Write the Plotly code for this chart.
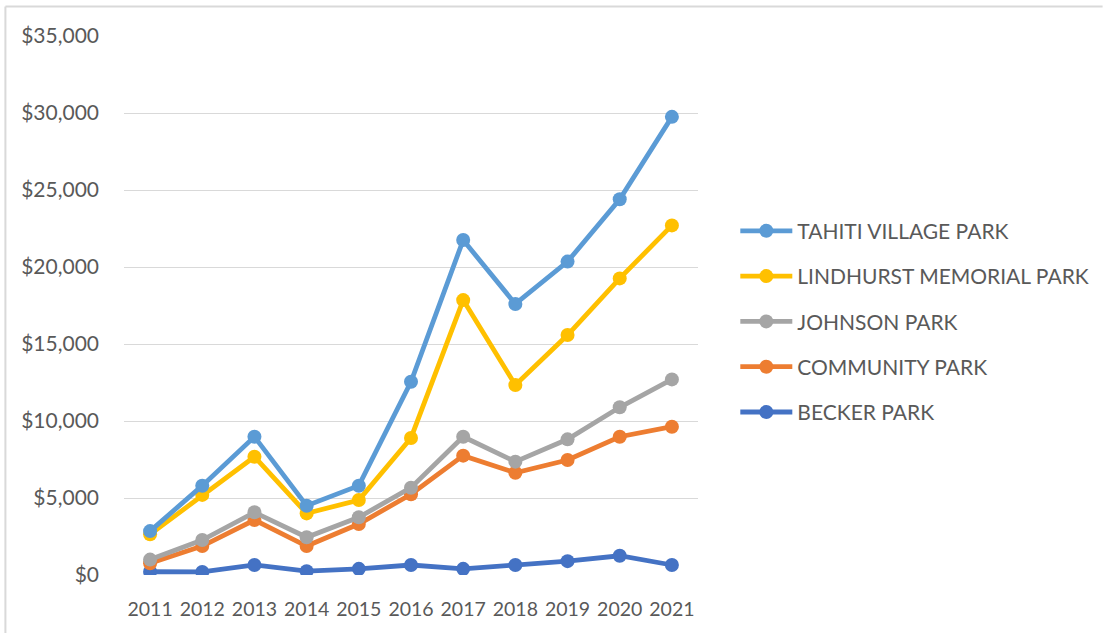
import plotly.graph_objects as go

years = ["2011", "2012", "2013", "2014", "2015", "2016", "2017", "2018", "2019", "2020", "2021"]
tahiti = [2850, 5800, 8980, 4500, 5800, 12550, 21750, 17600, 20350, 24400, 29750]
lindhurst = [2640, 5200, 7680, 4000, 4870, 8900, 17850, 12340, 15580, 19260, 22700]
johnson = [1000, 2270, 4070, 2450, 3750, 5670, 8980, 7360, 8810, 10890, 12700]
community = [760, 1880, 3570, 1880, 3310, 5240, 7750, 6640, 7470, 8980, 9630]
becker = [210, 200, 650, 250, 400, 650, 400, 650, 900, 1250, 650]

series_names = ["BECKER PARK", "COMMUNITY PARK", "JOHNSON PARK", "LINDHURST MEMORIAL PARK", "TAHITI VILLAGE PARK"]
series_values = [becker, community, johnson, lindhurst, tahiti]
series_colors = ["#4472C4", "#ED7D31", "#A5A5A5", "#FFC000", "#5B9BD5"]
legend_ranks = [5, 4, 3, 2, 1]
y_ticks = [0, 5000, 10000, 15000, 20000, 25000, 30000, 35000]
y_labels = ["$0", "$5,000", "$10,000", "$15,000", "$20,000", "$25,000", "$30,000", "$35,000"]

FONT = "Lato"
TXT = "#595959"

fig = go.Figure()
for name, vals, col, rk in zip(series_names, series_values, series_colors, legend_ranks):
    fig.add_trace(go.Scatter(
        x=years, y=vals, name=name, mode="lines+markers",
        line=dict(color=col, width=4.8),
        marker=dict(color=col, size=14),
        legendgroup=name, legendrank=rk,
    ))

fig.update_layout(
    width=1106, height=633,
    margin=dict(l=124, r=406, t=36, b=58),
    paper_bgcolor="white", plot_bgcolor="white",
    font=dict(family=FONT, size=21, color=TXT),
    legend=dict(
        x=1.065, y=0.470, xanchor="left", yanchor="middle",
        traceorder="grouped", tracegroupgap=15,
        font=dict(family=FONT, size=21, color=TXT),
        bgcolor="rgba(0,0,0,0)", itemwidth=52,
    ),
    xaxis=dict(
        type="category", range=[-0.5, len(years) - 0.5],
        showgrid=False, zeroline=False, showline=False,
        ticks="", ticklabelstandoff=20, tickangle=0, automargin=False,
        tickfont=dict(family=FONT, size=19.5, color=TXT),
    ),
    yaxis=dict(
        range=[0, 35000], tickvals=y_ticks, ticktext=y_labels,
        showgrid=True, gridcolor="#D9D9D9", gridwidth=1.3,
        zeroline=False, showline=False, ticks="", ticklabelstandoff=24,
        automargin=False,
        tickfont=dict(family=FONT, size=21, color=TXT),
    ),
    shapes=[
        dict(type="line", xref="paper", yref="paper",
             x0=(5 - 124) / 576, x1=(1106 - 124) / 576,
             y0=(575 - 6.5) / 539, y1=(575 - 6.5) / 539,
             line=dict(color="#D9D9D9", width=2)),
        dict(type="line", xref="paper", yref="paper",
             x0=(5 - 124) / 576, x1=(5 - 124) / 576,
             y0=(575 - 6.5) / 539, y1=(575 - 640) / 539,
             line=dict(color="#D9D9D9", width=2)),
    ],
)

fig.write_html("out.html", config={"displayModeBar": False},
               post_script="document.body.style.margin='0';document.body.style.overflow='hidden';")
